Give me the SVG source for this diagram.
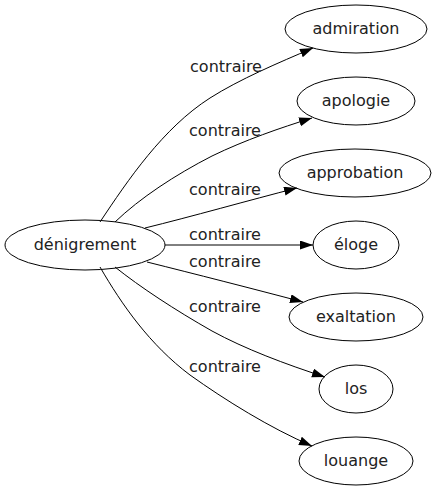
<svg xmlns="http://www.w3.org/2000/svg" width="437" height="491" viewBox="0 0 437 491">
<style>
.node ellipse{fill:none;stroke:#000;stroke-width:1}
text{font-family:"DejaVu Sans",sans-serif;font-size:16px;fill:#222;text-anchor:middle}
.edges path{fill:none;stroke:#000;stroke-width:1;marker-end:url(#arr)}
</style>
<defs>
<marker id="arr" markerUnits="userSpaceOnUse" markerWidth="14" markerHeight="10" refX="13" refY="4.5" orient="auto">
<path d="M0,0 L13,4.5 L0,9 z" fill="#000"/>
</marker>
</defs>
<rect width="437" height="491" fill="#fff"/>
<g class="edges" id="edges">
<path d="M100,222 C128,180 163,128 210,98 C240,79 278,63 313,48"/>
<path d="M115,222 C140,198 175,175 212,156 C245,140 280,128 312,118"/>
<path d="M145,228 C190,217 250,200 297,188"/>
<path d="M165,245 L313,245"/>
<path d="M147,262 C195,274 250,288 303,302"/>
<path d="M115,267 C140,287 175,310 212,331 C245,349 285,364 325,377"/>
<path d="M100,267 C122,305 150,345 190,375 C225,400 270,428 312,446"/>
<text x="226" y="72">contraire</text>
<text x="225" y="136">contraire</text>
<text x="225" y="195">contraire</text>
<text x="225" y="240">contraire</text>
<text x="225" y="267">contraire</text>
<text x="225" y="312">contraire</text>
<text x="225" y="372">contraire</text>
</g>
<g class="node" id="n-denigrement"><ellipse cx="85" cy="245" rx="80" ry="25"/><text x="85" y="250">dénigrement</text></g>
<g class="node" id="n-admiration"><ellipse cx="356" cy="29" rx="71" ry="24"/><text x="356" y="34">admiration</text></g>
<g class="node" id="n-apologie"><ellipse cx="356" cy="101" rx="59" ry="24"/><text x="356" y="106">apologie</text></g>
<g class="node" id="n-approbation"><ellipse cx="355" cy="173" rx="76" ry="24"/><text x="355" y="178">approbation</text></g>
<g class="node" id="n-eloge"><ellipse cx="356" cy="245" rx="43" ry="24"/><text x="356" y="250">éloge</text></g>
<g class="node" id="n-exaltation"><ellipse cx="356" cy="317" rx="67" ry="24"/><text x="356" y="322">exaltation</text></g>
<g class="node" id="n-los"><ellipse cx="356" cy="389" rx="37" ry="24"/><text x="356" y="394">los</text></g>
<g class="node" id="n-louange"><ellipse cx="356" cy="461" rx="57" ry="24"/><text x="356" y="466">louange</text></g>
</svg>
